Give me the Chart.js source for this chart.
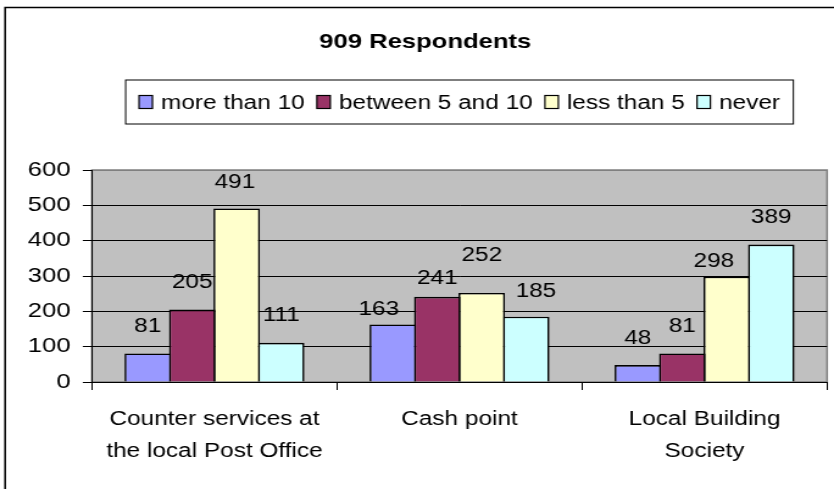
<!DOCTYPE html>
<html>
<head>
<meta charset="utf-8">
<script src="https://cdn.jsdelivr.net/npm/chart.js@4.4.1/dist/chart.umd.min.js"></script>
<style>
  html, body { margin: 0; padding: 0; background: #fff; }
</style>
</head>
<body>
<!-- drawn at 684 wide and stretched to 834, like the original picture -->
<canvas id="chart" width="684" height="489" style="width:834px;height:489px;display:block"></canvas>
<script>
const chartTitle = '909 Respondents';
const categories = [
  ['Counter services at', 'the local Post Office'],
  ['Cash point'],
  ['Local Building', 'Society']
];
const seriesNames = ['more than 10', 'between 5 and 10', 'less than 5', 'never'];
const moreThan10 = [81, 163, 48];
const between5and10 = [205, 241, 81];
const lessThan5 = [491, 252, 298];
const never = [111, 185, 389];
const yTicks = [0, 100, 200, 300, 400, 500, 600];
const seriesColors = ['#9999FF', '#993366', '#FFFFCC', '#CCFFFF'];

const FONT = '"Liberation Sans", Arial, sans-serif';
Chart.defaults.font.family = FONT;
Chart.defaults.color = '#000';

// some value labels were moved by hand in the original: [dx, height above bar]
const labelNudge = [
  [[0, 27], [-11.5, 15], [0, 27]],
  [[0, 27], [0, 18], [0, 27]],
  [[-1.5, 26], [0, 37], [-10.5, 15]],
  [[0, 27], [8, 25], [0, 27]]
];

// white page, outer frame, grey plot area
const frameAndPlot = {
  id: 'frameAndPlot',
  beforeDraw(chart) {
    const { ctx, chartArea: a } = chart;
    ctx.save();
    ctx.fillStyle = '#fff';
    ctx.fillRect(0, 0, chart.width, chart.height);
    ctx.strokeStyle = '#000';
    ctx.lineWidth = 1.5;
    ctx.strokeRect(4.2, 7.5, chart.width + 20, chart.height + 20);
    ctx.fillStyle = '#C0C0C0';
    ctx.fillRect(a.left, a.top, a.right - a.left, a.bottom - a.top);
    ctx.strokeStyle = '#808080';
    ctx.lineWidth = 1.5;
    ctx.strokeRect(a.left, a.top, a.right - a.left, a.bottom - a.top);
    ctx.restore();
  }
};

// value above each bar
const barValues = {
  id: 'barValues',
  afterDatasetsDraw(chart) {
    const ctx = chart.ctx;
    ctx.save();
    ctx.font = '20px ' + FONT;
    ctx.fillStyle = '#000';
    ctx.textAlign = 'center';
    ctx.textBaseline = 'middle';
    chart.data.datasets.forEach((ds, i) => {
      chart.getDatasetMeta(i).data.forEach((bar, j) => {
        const [dx, up] = labelNudge[i][j];
        ctx.fillText(String(ds.data[j]), bar.x + dx, bar.y - up);
      });
    });
    ctx.restore();
  }
};

// legend in a bordered box, one row
const boxLegend = {
  id: 'boxLegend',
  afterDraw(chart) {
    const ctx = chart.ctx;
    const a = chart.chartArea;
    ctx.save();
    ctx.font = '20px ' + FONT;
    const pad = 11, sw = 11, sh = 13, gap = 7, itemGap = 10;
    const items = chart.data.datasets.map(ds => ({
      label: ds.label, color: ds.backgroundColor, w: ctx.measureText(ds.label).width
    }));
    const total = pad * 2 + items.reduce((s, it) => s + sw + gap + it.w, 0) + itemGap * (items.length - 1);
    const top = 80, h = 44, mid = top + h / 2;
    let x = (a.left + a.right) / 2 - total / 2;
    ctx.fillStyle = '#fff';
    ctx.fillRect(x, top, total, h);
    ctx.strokeStyle = '#000';
    ctx.lineWidth = 1;
    ctx.strokeRect(x, top, total, h);
    x += pad;
    ctx.textBaseline = 'middle';
    ctx.textAlign = 'left';
    items.forEach(it => {
      ctx.fillStyle = it.color;
      ctx.fillRect(x, mid - sh / 2, sw, sh);
      ctx.strokeStyle = '#000';
      ctx.lineWidth = 1.2;
      ctx.strokeRect(x, mid - sh / 2, sw, sh);
      ctx.fillStyle = '#000';
      ctx.fillText(it.label, x + sw + gap, mid + 1);
      x += sw + gap + it.w + itemGap;
    });
    ctx.restore();
  }
};

const seriesData = [moreThan10, between5and10, lessThan5, never];

new Chart(document.getElementById('chart'), {
  type: 'bar',
  data: {
    labels: categories,
    datasets: seriesNames.map((name, i) => ({
      label: name,
      data: seriesData[i],
      backgroundColor: seriesColors[i],
      borderColor: '#000',
      borderWidth: 1.6,
      barPercentage: 1.045,
      categoryPercentage: 0.726
    }))
  },
  options: {
    responsive: false,
    animation: false,
    layout: { padding: { left: 19.3, right: 5.7, top: 0, bottom: 0 } },
    plugins: {
      legend: { display: false },
      tooltip: { enabled: false },
      title: {
        display: true,
        text: chartTitle,
        font: { size: 21, weight: 'bold' },
        color: '#000',
        padding: { top: 29.5, bottom: 115.3 }
      }
    },
    scales: {
      x: {
        grid: { display: true, drawOnChartArea: false, drawTicks: true, tickLength: 8, tickColor: '#000', color: '#000' },
        border: { color: '#000', width: 1 },
        ticks: { font: { size: 20, lineHeight: 1.6 }, padding: 13.5, maxRotation: 0, autoSkip: false },
        afterFit(scale) { scale.height = 107; }
      },
      y: {
        min: yTicks[0],
        max: yTicks[yTicks.length - 1],
        afterBuildTicks(scale) { scale.ticks = yTicks.map(v => ({ value: v })); },
        grid: {
          color: ctx => (ctx.tick && ctx.tick.value === yTicks[yTicks.length - 1]) ? '#808080' : '#000',
          tickColor: '#000',
          tickLength: 7.5,
          lineWidth: 1
        },
        border: { color: '#000', width: 1 },
        ticks: { font: { size: 21 }, padding: 10 },
        afterFit(scale) { scale.width = 56.1; }
      }
    }
  },
  plugins: [frameAndPlot, barValues, boxLegend]
});
</script>
</body>
</html>
